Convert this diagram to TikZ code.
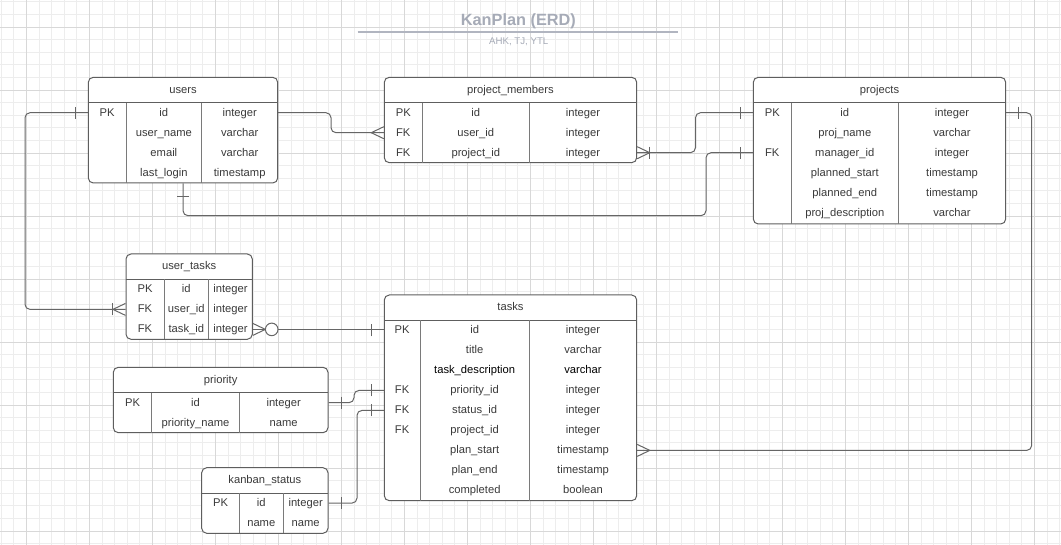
\documentclass[tikz,border=0pt]{standalone}
\usepackage{fontspec}
\setmainfont{Liberation Sans}
\usetikzlibrary{fit}

\definecolor{gridlight}{HTML}{EDEDED}
\definecolor{griddark}{HTML}{D8D8D8}
\definecolor{erdborder}{HTML}{5E5E5E}
\definecolor{erdsepcol}{HTML}{7A7A7A}
\definecolor{erdtextcol}{HTML}{3A3A3A}
\definecolor{conncol}{HTML}{666666}
\definecolor{titlecol}{HTML}{A6ABB7}
\definecolor{rulecol}{HTML}{B1B5C0}

\newcommand{\erdfont}{\fontsize{11.2pt}{13pt}\selectfont}

\tikzset{
  gridfine/.style={draw=gridlight, line width=0.8pt},
  gridbold/.style={draw=griddark, line width=0.8pt},
  erdbox/.style={draw=erdborder, fill=white, line width=1pt, rounded corners=5pt, inner sep=0pt},
  erdrule/.style={draw=erdborder, line width=1pt},
  erdsep/.style={draw=erdsepcol, line width=1pt},
  erdtext/.style={anchor=base, text=erdtextcol, font=\erdfont, inner sep=0pt},
  conn/.style={draw=conncol, line width=1pt, rounded corners=5pt},
  tipline/.style={draw=conncol, line width=1pt},
  onemark/.pic={\draw[tipline] (12.6,-6) -- (12.6,6);},
  manymark/.pic={\draw[tipline] (0,-6) -- (12.6,0) -- (0,6);},
  onemanymark/.pic={
    \draw[tipline] (0,-6) -- (12.6,0) -- (0,6);
    \draw[tipline] (12.6,-6) -- (12.6,6);
  },
  zeromanymark/.pic={
    \draw[tipline] (0,-6) -- (12.6,0) -- (0,6);
    \draw[tipline, fill=white] (18.9,0) circle (6.3);
  },
}

% #1 name, #2 left, #3 top, #4 first split, #5 second split, #6 right, #7 bottom, #8 title, #9 rows
\newcommand{\erdtable}[9]{%
  \node[erdbox, fit={(#2,#3) (#6,#7)}] (#1) {};
  \node[erdtext] (#1-title) at ({(#2+#6)/2},{#3+16}) {#8};
  \draw[erdrule] (#2,{#3+25.4}) -- (#6,{#3+25.4});
  \draw[erdsep] (#4,{#3+25.4}) -- (#4,#7);
  \draw[erdsep] (#5,{#3+25.4}) -- (#5,#7);
  \foreach \pk/\fld/\typ [count=\r] in {#9} {
    \coordinate (#1-\r) at (#2,{#3+35.4+20*(\r-1)});
    \node[erdtext] (#1-\r-key) at ({(#2+#4)/2},{#3+38.9+20*(\r-1)}) {\pk};
    \node[erdtext] (#1-\r-field) at ({(#4+#5)/2},{#3+38.9+20*(\r-1)}) {\fld};
    \node[erdtext] (#1-\r-type) at ({(#5+#6)/2},{#3+38.9+20*(\r-1)}) {\typ};
  }%
}

\begin{document}
\begin{tikzpicture}[x=1pt, y=-1pt]

  % Background and grid
  \fill[white] (0,0) rectangle (1061,545);
  \useasboundingbox (0,0) rectangle (1061,545);
  \foreach \i in {0,...,84} \draw[gridfine] ({1.1+12.6*\i},0) -- ({1.1+12.6*\i},545);
  \foreach \j in {0,...,43} \draw[gridfine] (0,{1.8+12.6*\j}) -- (1061,{1.8+12.6*\j});
  \foreach \i in {0,...,16} \draw[gridbold] ({26.3+63*\i},0) -- ({26.3+63*\i},545);
  \foreach \j in {0,...,8} \draw[gridbold] (0,{27+63*\j}) -- (1061,{27+63*\j});

  % Title
  \node[anchor=base, inner sep=0pt, text=titlecol, font=\fontsize{16.3pt}{18pt}\selectfont\bfseries] (title) at (518.4,26) {KanPlan (ERD)};
  \draw[rulecol, line width=1.8pt] (357.7,31.7) -- (678.3,31.7);
  \node[anchor=base, inner sep=0pt, text=titlecol, font=\fontsize{9.7pt}{11pt}\selectfont] (authors) at (518.7,45) {AHK, TJ, YTL};

  % Bends of the connectors
  \coordinate (bend1) at (331,0);
  \coordinate (bend2) at (695.5,0);
  \coordinate (bend3) at (706,215.7);
  \coordinate (bend4) at (25,0);
  \coordinate (bend6) at (354,0);
  \coordinate (bend7) at (357,0);
  \coordinate (bend8) at (1031.7,0);

  % Tables
  \erdtable{users}{88.3}{77.3}{126}{201.7}{277.7}{183}{users}
    {PK/id/integer, {}/user\_name/varchar, {}/email/varchar, {}/last\_login/timestamp}
  \erdtable{members}{384.3}{77.3}{422.3}{529.3}{636.7}{162.7}{project\_members}
    {PK/id/integer, FK/user\_id/integer, FK/project\_id/integer}
  \erdtable{projects}{753.3}{77.3}{791.3}{898.3}{1005.7}{224}{projects}
    {PK/id/integer, {}/proj\_name/varchar, FK/manager\_id/integer,
     {}/planned\_start/timestamp, {}/planned\_end/timestamp, {}/proj\_description/varchar}
  \erdtable{usertasks}{126}{254}{164}{208.7}{252.3}{339.3}{user\_tasks}
    {PK/id/integer, FK/user\_id/integer, FK/task\_id/integer}
  \erdtable{tasks}{384.3}{295}{420}{529.3}{636.7}{500.7}{tasks}
    {PK/id/integer, {}/title/varchar,
     {}/\textcolor{black}{task\_description}/\textcolor{black}{varchar},
     FK/priority\_id/integer, FK/status\_id/integer, FK/project\_id/integer,
     {}/plan\_start/timestamp, {}/plan\_end/timestamp, {}/completed/boolean}
  \erdtable{priority}{113.3}{367.3}{151.7}{239.3}{328}{432.7}{priority}
    {PK/id/integer, {}/priority\_name/name}
  \erdtable{kanban}{201.7}{467.7}{239.3}{283.3}{328}{533.3}{kanban\_status}
    {PK/id/integer, {}/name/name}

  % Connect tables
  \draw[conn] (users.east |- users-1) -| (bend1 |- members-2) -- (members.west |- members-2);
  \draw[conn] (members.east |- members-3) -| (bend2 |- projects-1) -- (projects.west |- projects-1);
  \draw[conn] (users.south) |- (bend3) |- (projects.west |- projects-3);
  \draw[conn] (users.west |- users-1) -| (bend4 |- usertasks-2) -- (usertasks.west |- usertasks-2);
  \draw[conn] (usertasks.east |- usertasks-3) -- (tasks.west |- usertasks-3);
  \draw[conn] (priority.east |- priority-1) -| (bend6 |- tasks-4) -- (tasks.west |- tasks-4);
  \draw[conn] (kanban.east |- kanban-1) -| (bend7 |- tasks-5) -- (tasks.west |- tasks-5);
  \draw[conn] (projects.east |- projects-1) -| (bend8 |- tasks-7) -- (tasks.east |- tasks-7);

  % Cardinality marks
  \path (members.west |- members-2) pic[rotate=180] {manymark};
  \path (members.east |- members-3) pic {onemanymark};
  \path (projects.west |- projects-1) pic[rotate=180] {onemark};
  \path (users.south) pic[rotate=-90] {onemark};
  \path (projects.west |- projects-3) pic[rotate=180] {onemark};
  \path (users.west |- users-1) pic[rotate=180] {onemark};
  \path (usertasks.west |- usertasks-2) pic[rotate=180] {onemanymark};
  \path (usertasks.east |- usertasks-3) pic {zeromanymark};
  \path (tasks.west |- tasks-1) pic[rotate=180] {onemark};
  \path (priority.east |- priority-1) pic {onemark};
  \path (tasks.west |- tasks-4) pic[rotate=180] {onemark};
  \path (kanban.east |- kanban-1) pic {onemark};
  \path (tasks.west |- tasks-5) pic[rotate=180] {onemark};
  \path (projects.east |- projects-1) pic {onemark};
  \path (tasks.east |- tasks-7) pic {manymark};

\end{tikzpicture}
\end{document}
